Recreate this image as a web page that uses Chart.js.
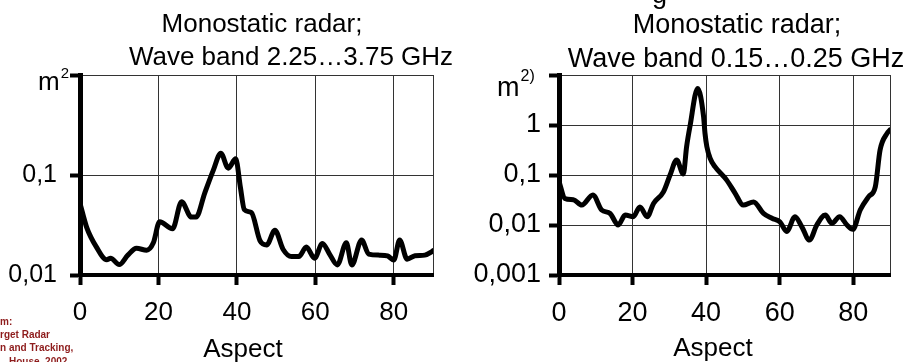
<!DOCTYPE html>
<html><head><meta charset="utf-8">
<script src="https://cdn.jsdelivr.net/npm/chart.js@4.4.1/dist/chart.umd.min.js"></script>
<style>
html,body{margin:0;padding:0;background:#fff;}
body{width:905px;height:362px;position:relative;overflow:hidden;}
canvas{position:absolute;top:0;}
#cA{left:0;} #cB{left:460px;}
</style></head><body>
<canvas id="cA" width="470" height="362"></canvas>
<canvas id="cB" width="445" height="362"></canvas>
<script>
// ---- data ----
const aspectA = [0, 1.7, 4.2, 6.8, 7.8, 10.0, 12.2, 14.4, 17.0, 18.7, 20.3, 23.6, 25.9, 28.4, 29.6, 31.8, 34.0, 35.9, 37.8, 39.7, 40.9, 41.9, 43.7, 45.9, 47.6, 49.7, 51.8, 53.9, 55.8, 57.7, 59.8, 61.8, 63.7, 65.6, 67.9, 69.3, 71.8, 73.6, 76.4, 78.4, 80.0, 81.5, 83.4, 85.4, 87.9, 89.6, 90];
const rcsA = [0.052, 0.030, 0.019, 0.0142, 0.0147, 0.0127, 0.0158, 0.0185, 0.0177, 0.021, 0.034, 0.029, 0.054, 0.038, 0.038, 0.066, 0.112, 0.165, 0.117, 0.145, 0.075, 0.045, 0.042, 0.022, 0.020, 0.028, 0.018, 0.0153, 0.0153, 0.019, 0.0147, 0.0207, 0.016, 0.0126, 0.021, 0.0126, 0.0224, 0.0162, 0.0158, 0.0155, 0.0141, 0.0224, 0.0144, 0.0156, 0.0158, 0.0170, 0.0175];
const aspectB = [0, 1.6, 3.9, 6.2, 9.2, 11.6, 13.9, 16.1, 18.0, 20.2, 22.0, 24.0, 25.7, 28.4, 30.2, 32.0, 33.8, 34.7, 35.6, 37.7, 39.3, 39.7, 40.2, 41.1, 42.4, 45.6, 47.9, 50.1, 52.9, 55.6, 57.9, 60.1, 61.9, 64.2, 66.0, 68.1, 70.1, 72.4, 74.2, 76.3, 78.3, 79.9, 81.9, 84.2, 86.0, 87.3, 89.2, 90];
const rcsB = [0.074, 0.034, 0.032, 0.025, 0.040, 0.020, 0.017, 0.0100, 0.0158, 0.0147, 0.023, 0.0147, 0.027, 0.046, 0.10, 0.20, 0.105, 0.37, 0.93, 5.4, 1.5, 0.68, 0.37, 0.215, 0.147, 0.079, 0.043, 0.025, 0.029, 0.017, 0.0136, 0.0115, 0.0074, 0.0147, 0.0093, 0.0050, 0.0100, 0.0158, 0.0108, 0.0147, 0.0100, 0.0082, 0.020, 0.037, 0.058, 0.316, 0.68, 0.8];

const xTicks = [0, 20, 40, 60, 80];
const xMax = 90;
const yTicksA = [0.01, 0.1, 1];
const yLabelsA = ['0,01', '0,1', ''];
const yTicksB = [0.001, 0.01, 0.1, 1, 10];
const yLabelsB = ['0,001', '0,01', '0,1', '1', ''];
const titleA = ['Monostatic radar;', 'Wave band 2.25…3.75 GHz'];
const titleB = ['Monostatic radar;', 'Wave band 0.15…0.25 GHz'];
const xTitle = 'Aspect';
const unitA = ['m', '2'];
const unitB = ['m', '2)'];
const citation = ['m:', 'rget Radar', 'n and Tracking,', 'House, 2002'];

const FONT = '"Liberation Sans", Arial, Helvetica, sans-serif';

function textPlugin(cfg) {
  return {
    id: 'texts',
    afterDraw(chart) {
      const c = chart.ctx;
      c.save();
      c.fillStyle = '#000';
      c.textBaseline = 'alphabetic';
      c.textAlign = 'center';
      c.font = cfg.titleSize + 'px ' + FONT;
      c.fillText(cfg.title[0], cfg.t1x, cfg.t1y);
      c.fillText(cfg.title[1], cfg.t2x, cfg.t2y);
      c.font = '26px ' + FONT;
      c.fillText(xTitle, cfg.ax, cfg.ay);
      c.textAlign = 'left';
      c.font = cfg.unitSize + 'px ' + FONT;
      c.fillText(cfg.unit[0], cfg.ux, cfg.uy);
      const mw = c.measureText(cfg.unit[0]).width;
      c.font = cfg.supSize + 'px ' + FONT;
      c.fillText(cfg.unit[1], cfg.ux + mw + 1, cfg.uy - cfg.supRaise);
      if (cfg.extra) cfg.extra(c);
      c.restore();
    }
  };
}

function makeChart(id, cfg) {
  const pts = cfg.x.map((x, i) => ({ x: x, y: cfg.y[i] }));
  return new Chart(document.getElementById(id), {
    type: 'line',
    data: { datasets: [{ data: pts, borderColor: '#000', borderWidth: 5, pointRadius: 0,
      cubicInterpolationMode: 'monotone', fill: false, borderCapStyle: 'round', borderJoinStyle: 'round' }] },
    options: {
      responsive: false, animation: false, events: [],
      layout: { padding: { left: 0, right: cfg.padRight, top: 75, bottom: 0 } },
      plugins: { legend: { display: false }, tooltip: { enabled: false }, title: { display: false } },
      scales: {
        x: {
          type: 'linear', min: 0, max: xMax,
          afterFit(s) { s.height = 87; },
          afterBuildTicks(s) { s.ticks = xTicks.concat([xMax]).map(v => ({ value: v })); },
          ticks: { callback: v => (xTicks.includes(v) ? String(v) : ''), autoSkip: false, maxRotation: 0,
            font: { family: FONT, size: cfg.xFont }, color: '#000', padding: 12 },
          grid: { color: '#333', lineWidth: 1, tickLength: 10, tickWidth: 4,
            tickColor: ctx => (ctx.tick && ctx.tick.value === xMax ? 'rgba(0,0,0,0)' : '#000') },
          border: { color: '#000', width: 4 }
        },
        y: {
          type: 'logarithmic', min: cfg.yTicks[0], max: cfg.yTicks[cfg.yTicks.length - 1],
          afterFit(s) { s.width = cfg.yWidth; },
          afterBuildTicks(s) { s.ticks = cfg.yTicks.map(v => ({ value: v })); },
          ticks: { callback: (v, i) => cfg.yLabels[i], autoSkip: false,
            font: { family: FONT, size: cfg.yFont }, color: '#000', padding: cfg.yPad },
          grid: { color: '#333', lineWidth: 1, tickLength: 10, tickWidth: 4, tickColor: '#000' },
          border: { color: '#000', width: 5 }
        }
      }
    },
    plugins: [textPlugin(cfg)]
  });
}

makeChart('cA', {
  x: aspectA, y: rcsA, yTicks: yTicksA, yLabels: yLabelsA,
  padRight: 37, yWidth: 80, xFont: 26, yFont: 25, yPad: 13,
  title: titleA, titleSize: 26, t1x: 262, t1y: 32, t2x: 291, t2y: 65,
  ax: 243, ay: 357,
  unit: unitA, unitSize: 26, supSize: 15, supRaise: 12, ux: 38, uy: 90,
  extra(c) {
    c.fillStyle = '#8e1c1c';
    c.font = 'bold 10px ' + FONT;
    c.textAlign = 'left';
    c.fillText(citation[0], 0, 325);
    c.fillText(citation[1], 0, 338);
    c.fillText(citation[2], 0, 351);
    c.fillText(citation[3], 9, 365);
  }
});

makeChart('cB', {
  x: aspectB, y: rcsB, yTicks: yTicksB, yLabels: yLabelsB,
  padRight: 15, yWidth: 99, xFont: 27, yFont: 27, yPad: 8,
  title: titleB, titleSize: 27, t1x: 277, t1y: 33, t2x: 276, t2y: 67,
  ax: 253, ay: 356,
  unit: unitB, unitSize: 27, supSize: 16, supRaise: 15, ux: 37, uy: 96,
  extra(c) {
    c.font = '27px ' + FONT;
    c.textAlign = 'left';
    c.fillText('g', 192, 3);
  }
});
</script>
</body></html>
